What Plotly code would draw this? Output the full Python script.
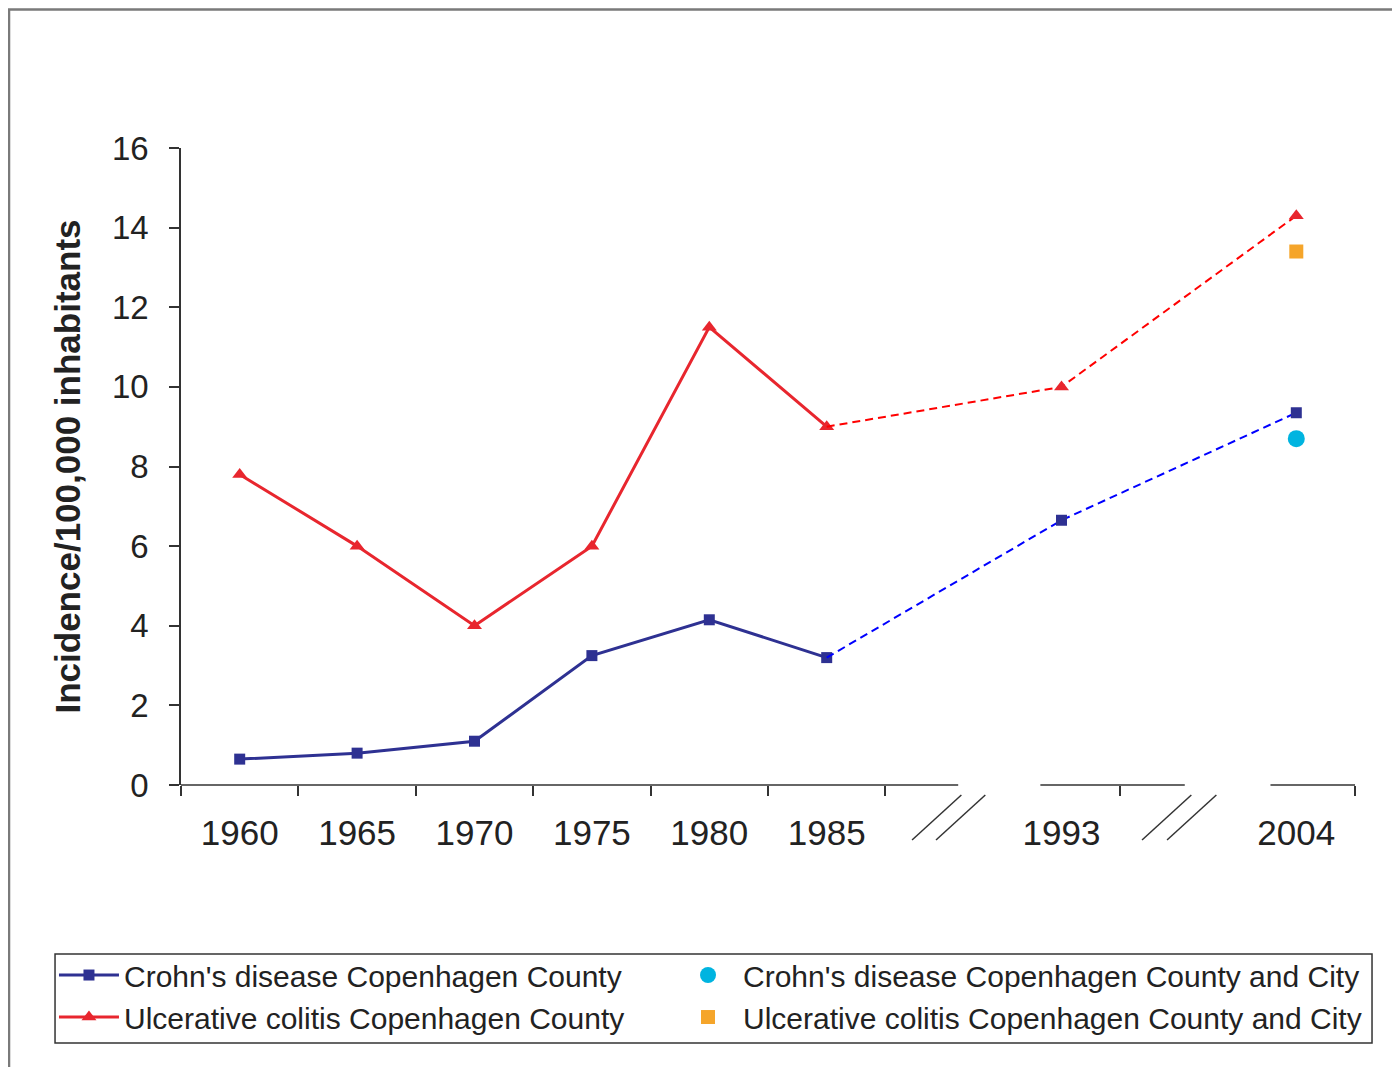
import plotly.graph_objects as go

# ---- data ----
categories = ["1960", "1965", "1970", "1975", "1980", "1985", " ", "1993", "  ", "2004"]
years_solid = ["1960", "1965", "1970", "1975", "1980", "1985"]
years_dash = ["1985", "1993", "2004"]
years_late = ["1993", "2004"]

cd_county = [0.65, 0.8, 1.1, 3.25, 4.15, 3.2, 6.65, 9.35]   # 1960..1985, 1993, 2004
uc_county = [7.8, 6.0, 4.0, 6.0, 11.5, 9.0, 10.0, 14.3]
city_year = ["2004"]
cd_city = [8.7]
uc_city = [13.4]
y_ticks = [0, 2, 4, 6, 8, 10, 12, 14, 16]

BLUE = "#2e3192"
RED = "#e8262e"
FONT = "Liberation Sans, Arial, Helvetica, sans-serif"

fig = go.Figure()

# solid County lines with markers (legend entries)
fig.add_trace(go.Scatter(
    x=years_solid, y=cd_county[:6], mode="lines+markers",
    name="Crohn's disease Copenhagen County", legend="legend",
    line=dict(color=BLUE, width=3),
    marker=dict(symbol="square", size=11, color=BLUE),
))
fig.add_trace(go.Scatter(
    x=years_solid, y=uc_county[:6], mode="lines+markers",
    name="Ulcerative colitis Copenhagen County", legend="legend",
    line=dict(color=RED, width=3),
    marker=dict(symbol="triangle-up", size=13, color=RED),
))
# dashed continuation
fig.add_trace(go.Scatter(
    x=years_dash, y=cd_county[5:], mode="lines", showlegend=False,
    line=dict(color="#0000ff", width=2, dash="8px,5px"), hoverinfo="skip",
))
fig.add_trace(go.Scatter(
    x=years_dash, y=uc_county[5:], mode="lines", showlegend=False,
    line=dict(color="#ff0000", width=2, dash="8px,5px"), hoverinfo="skip",
))
# late markers
fig.add_trace(go.Scatter(
    x=years_late, y=cd_county[6:], mode="markers", showlegend=False,
    marker=dict(symbol="square", size=11, color=BLUE),
))
fig.add_trace(go.Scatter(
    x=years_late, y=uc_county[6:], mode="markers", showlegend=False,
    marker=dict(symbol="triangle-up", size=13, color=RED),
))
# County and City
fig.add_trace(go.Scatter(
    x=city_year, y=cd_city, mode="markers",
    name="Crohn's disease Copenhagen County and City", legend="legend2",
    marker=dict(symbol="circle", size=17, color="#00b4e0"),
))
fig.add_trace(go.Scatter(
    x=city_year, y=uc_city, mode="markers",
    name="Ulcerative colitis Copenhagen County and City", legend="legend2",
    marker=dict(symbol="square", size=14, color="#f5a52a"),
))
# invisible trace for the boundary-tick axis
fig.add_trace(go.Scatter(x=[0], y=[0], xaxis="x2", mode="markers",
                         marker=dict(opacity=0), showlegend=False, hoverinfo="skip"))

# ---- decorations: x axis line with breaks, break marks, legend box, outer frame ----
shapes = []
ax_col = "#333333"
for a, b in [(-0.5, 6.12), (6.82, 8.05), (8.78, 9.5)]:
    shapes.append(dict(type="line", xref="x2", yref="paper", x0=a, x1=b, y0=0, y1=0,
                       line=dict(color=ax_col, width=1.5)))
for x0 in [5.727, 5.931, 7.686, 7.899]:
    shapes.append(dict(type="line", xref="x2", yref="paper", x0=x0, x1=x0 + 0.42,
                       y0=-0.0863, y1=-0.0157, line=dict(color=ax_col, width=1.5)))
shapes.append(dict(type="rect", xref="paper", yref="paper", x0=-0.1465, x1=1.06,
                   y0=-0.47, y1=1.2175, line=dict(color="#7a7a7a", width=2.5),
                   fillcolor="rgba(0,0,0,0)", layer="below"))
shapes.append(dict(type="rect", xref="paper", yref="paper", x0=-0.1073, x1=1.0145,
                   y0=-0.405, y1=-0.2653, line=dict(color="#333333", width=1.5),
                   fillcolor="white", layer="below"))

legend_common = dict(
    orientation="v", y=-0.2575, yanchor="top", xanchor="left",
    font=dict(size=30, family=FONT, color="#222222"),
    bgcolor="rgba(0,0,0,0)", borderwidth=0, itemwidth=60, traceorder="normal",
)

fig.update_layout(
    width=1392, height=1059,
    margin=dict(l=173, r=45, t=140, b=282),
    paper_bgcolor="white", plot_bgcolor="white",
    font=dict(family=FONT, color="#222222"),
    shapes=shapes,
    showlegend=True,
    legend=dict(x=-0.1082, **legend_common),
    legend2=dict(x=0.4191, **legend_common),
    xaxis=dict(
        type="category", categoryorder="array", categoryarray=categories,
        range=[-0.5, 9.5], showline=False, showgrid=False, zeroline=False,
        ticks="", tickfont=dict(size=35, family=FONT, color="#222222"),
        ticklabelstandoff=24,
    ),
    xaxis2=dict(
        overlaying="x", range=[-0.5, 9.5], showgrid=False, zeroline=False,
        showline=False, showticklabels=False, ticks="outside", ticklen=10,
        tickwidth=1.5, tickcolor=ax_col, side="bottom",
        tickvals=[-0.5, 0.5, 1.5, 2.5, 3.5, 4.5, 5.5, 7.5, 9.5],
    ),
    yaxis=dict(
        range=[0, 16], tickvals=y_ticks, showgrid=False, zeroline=False,
        showline=True, linecolor=ax_col, linewidth=1.5,
        ticks="outside", ticklen=10, tickwidth=1.5, tickcolor=ax_col,
        tickfont=dict(size=33, family=FONT, color="#222222"),
        ticklabelstandoff=14,
        title=dict(text="<b>Incidence/100,000 inhabitants</b>",
                   font=dict(size=35, family=FONT, color="#222222"), standoff=21),
    ),
)

fig.write_html("out.html")
